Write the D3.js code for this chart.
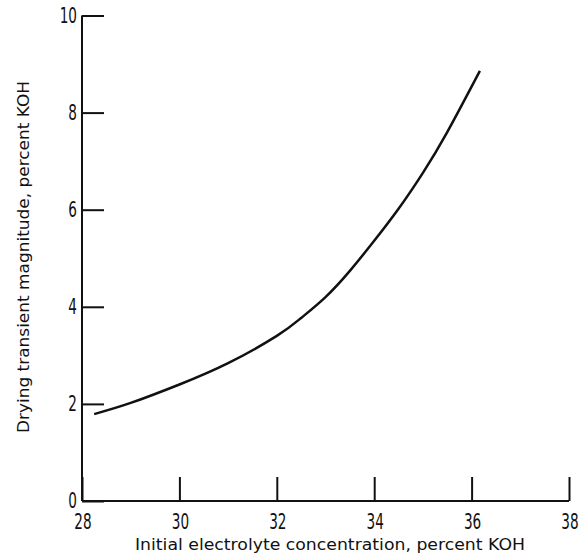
<!DOCTYPE html>
<html>
<head>
<meta charset="utf-8">
<script src="https://cdn.jsdelivr.net/npm/d3@7"></script>
<style>
  html, body { margin: 0; padding: 0; background: #fff; }
  svg { display: block; }
  .tick-label { font-family: "DejaVu Sans Condensed", "Liberation Sans Narrow", sans-serif; font-size: 21px; fill: #111; }
  .axis-title { font-family: "DejaVu Sans", "Liberation Sans", sans-serif; font-size: 16px; fill: #111; }
</style>
</head>
<body>
<svg id="chart" width="580" height="558"></svg>
<script>
// Drying transient magnitude vs initial electrolyte concentration
const concentration = [28.25, 29.0, 30.0, 31.0, 32.0, 32.5, 33.0, 33.5, 34.0, 34.5, 35.0, 35.5, 36.17];
const transient     = [1.79, 2.02, 2.40, 2.84, 3.40, 3.77, 4.20, 4.74, 5.36, 6.02, 6.76, 7.60, 8.86];
const xTicks = [28, 30, 32, 34, 36, 38];
const yTicks = [0, 2, 4, 6, 8, 10];
const xTitle = "Initial electrolyte concentration, percent KOH";
const yTitle = "Drying transient magnitude, percent KOH";

const svg = d3.select("#chart");
const x = d3.scaleLinear().domain([28, 38]).range([82, 569]);
const y = d3.scaleLinear().domain([0, 10]).range([501, 15.5]);

// Axis lines: left spine and bottom spine
svg.append("line").attr("x1", x(28)).attr("x2", x(28)).attr("y1", y(0)).attr("y2", y(10))
  .attr("stroke", "#111").attr("stroke-width", 2);
svg.append("line").attr("x1", x(28)).attr("x2", x(38)).attr("y1", y(0)).attr("y2", y(0))
  .attr("stroke", "#111").attr("stroke-width", 2);

// Inward-pointing ticks
const xAxis = d3.axisBottom(x).tickValues(xTicks).tickSizeInner(-24).tickSizeOuter(0).tickFormat("");
const yAxis = d3.axisLeft(y).tickValues(yTicks).tickSizeInner(-22).tickSizeOuter(0).tickFormat("");
const gx = svg.append("g").attr("transform", `translate(0,${y(0)})`).call(xAxis);
const gy = svg.append("g").attr("transform", `translate(${x(28)},0)`).call(yAxis);
[gx, gy].forEach(g => {
  g.select(".domain").remove();
  g.selectAll(".tick line").attr("stroke", "#111").attr("stroke-width", 2);
});

// Tick labels (narrow numerals)
svg.selectAll(".xlab").data(xTicks).enter().append("text")
  .attr("class", "tick-label")
  .attr("transform", d => `translate(${x(d) + 1},529) scale(0.72,1)`)
  .attr("text-anchor", "middle").text(d => d);
svg.selectAll(".ylab").data(yTicks).enter().append("text")
  .attr("class", "tick-label")
  .attr("transform", d => `translate(77,${y(d) + 7}) scale(0.72,1)`)
  .attr("text-anchor", "end").text(d => d);

// Axis titles
svg.append("text").attr("class", "axis-title")
  .attr("x", 330).attr("y", 550).attr("text-anchor", "middle")
  .attr("textLength", 390).attr("lengthAdjust", "spacingAndGlyphs")
  .text(xTitle);
svg.append("text").attr("class", "axis-title")
  .attr("transform", "translate(29,257) rotate(-90)")
  .attr("text-anchor", "middle")
  .attr("textLength", 352).attr("lengthAdjust", "spacingAndGlyphs")
  .text(yTitle);

// Curve
const line = d3.line()
  .x((d, i) => x(concentration[i]))
  .y(d => y(d))
  .curve(d3.curveNatural);
svg.append("path").datum(transient)
  .attr("d", line)
  .attr("fill", "none").attr("stroke", "#111").attr("stroke-width", 2.5);
</script>
</body>
</html>
